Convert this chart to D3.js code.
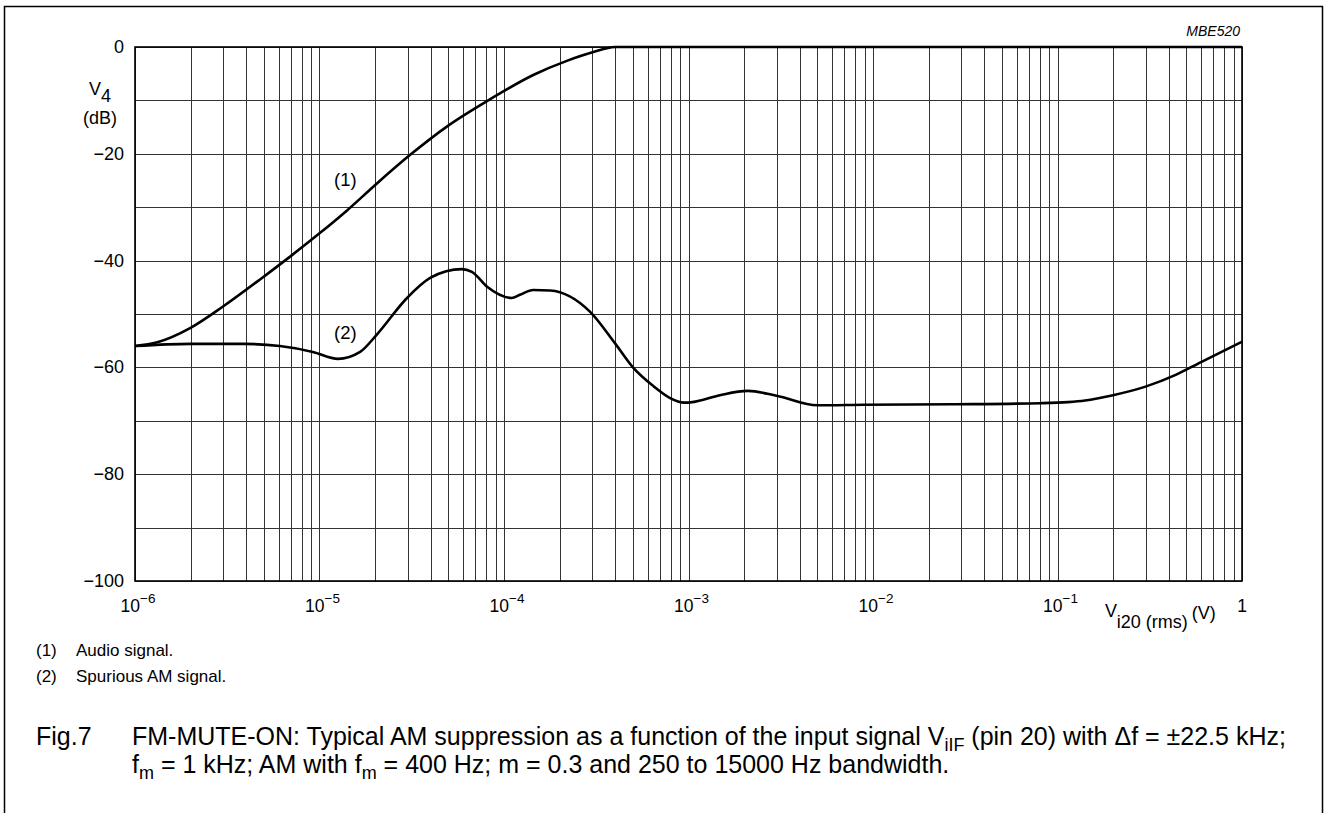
<!DOCTYPE html>
<html>
<head>
<meta charset="utf-8">
<script src="https://cdn.jsdelivr.net/npm/d3@7"></script>
<style>
  body { margin: 0; background: #fff; }
  text { font-family: "Liberation Sans", Arial, Helvetica, sans-serif; fill: #000; }
</style>
</head>
<body>
<div id="chart"></div>
<script>
// curve (1) audio signal: input voltage (V) and V4 (dB)
var audioVolts = [1e-6, 1.32e-6, 2.0e-6, 3.0e-6, 4.9e-6, 6.9e-6, 1e-5, 1.41e-5, 2.04e-5, 3.1e-5,
                  4.9e-5, 8.3e-5, 1.45e-4, 2.19e-4, 3.02e-4, 4.0e-4, 1e-3, 1e-2, 1e-1, 1];
var audioDb    = [-56, -55.3, -52.6, -48.6, -43.2, -39.3, -34.9, -30.6, -25.6, -20.2,
                  -14.9, -9.9, -5.2, -2.6, -1.0, 0, 0, 0, 0, 0];

// curve (2) spurious AM signal
var spurVolts = [1e-6, 2.0e-6, 3.85e-6, 6.1e-6, 9.2e-6, 1.26e-5, 1.66e-5, 2.04e-5, 2.98e-5, 4.0e-5,
                 5.9e-5, 6.7e-5, 8.1e-5, 1.1e-4, 1.22e-4, 1.44e-4, 1.78e-4, 2.93e-4, 4.0e-4, 5.0e-4,
                 6.5e-4, 7.9e-4, 9.5e-4, 1.05e-3, 1.48e-3, 2.1e-3, 3.0e-3, 5.0e-3, 8.9e-3, 2.7e-2,
                 8.1e-2, 1.14e-1, 1.41e-1, 2.0e-1, 3.0e-1, 4.37e-1, 6.0e-1, 1];
var spurDb    = [-56, -55.6, -55.6, -56.0, -57.1, -58.4, -57.1, -53.9, -47.0, -43.2,
                 -41.6, -42.1, -44.9, -47.0, -46.4, -45.5, -45.6, -49.6, -55.5, -60,
                 -63.6, -65.7, -66.6, -66.5, -65.2, -64.4, -65.3, -67.1, -67.0, -66.9,
                 -66.7, -66.5, -66.2, -65.2, -63.6, -61.4, -59.0, -55.2];

var yTicks = [0, -20, -40, -60, -80, -100];
var yGrid = [0, -10, -20, -30, -40, -50, -60, -70, -80, -90, -100];
var xDecades = [-6, -5, -4, -3, -2, -1];

var width = 1326, height = 813;
var plotLeft = 135, plotRight = 1242, plotTop = 47, plotBottom = 581;

var svg = d3.select("#chart").append("svg")
    .attr("width", width)
    .attr("height", height);

var x = d3.scaleLog().domain([1e-6, 1]).range([plotLeft, plotRight]);
var y = d3.scaleLinear().domain([-100, 0]).range([plotBottom, plotTop]);

// outer frame (open at the bottom, runs off the page)
svg.append("path")
    .attr("d", "M4.5," + (height + 5) + "V6.5H1322.5V" + (height + 5))
    .attr("fill", "none")
    .attr("stroke", "#000")
    .attr("stroke-width", 1.5);

// vertical grid: 1..9 in every decade
var xGrid = [];
xDecades.forEach(function (d) {
    for (var k = 1; k <= 9; k++) xGrid.push(k * Math.pow(10, d));
});
xGrid.push(1);

var grid = svg.append("g").attr("shape-rendering", "crispEdges");
grid.selectAll("line.v")
    .data(xGrid)
    .enter()
    .append("line")
    .attr("class", "v")
    .attr("x1", function (d) { return Math.round(x(d)) + 0.5; })
    .attr("x2", function (d) { return Math.round(x(d)) + 0.5; })
    .attr("y1", plotTop)
    .attr("y2", plotBottom)
    .attr("stroke", "#333")
    .attr("stroke-width", 1);

grid.selectAll("line.h")
    .data(yGrid)
    .enter()
    .append("line")
    .attr("class", "h")
    .attr("x1", plotLeft)
    .attr("x2", plotRight)
    .attr("y1", function (d) { return Math.round(y(d)) + 0.5; })
    .attr("y2", function (d) { return Math.round(y(d)) + 0.5; })
    .attr("stroke", "#333")
    .attr("stroke-width", 1);

svg.append("rect")
    .attr("x", plotLeft)
    .attr("y", plotTop)
    .attr("width", plotRight - plotLeft)
    .attr("height", plotBottom - plotTop)
    .attr("fill", "none")
    .attr("stroke", "#000")
    .attr("stroke-width", 1.6);

// curves
var line = d3.line()
    .x(function (d) { return x(d[0]); })
    .y(function (d) { return y(d[1]); })
    .curve(d3.curveMonotoneX);

svg.append("path")
    .datum(d3.zip(audioVolts, audioDb))
    .attr("d", line)
    .attr("fill", "none")
    .attr("stroke", "#000")
    .attr("stroke-width", 2.6);

svg.append("path")
    .datum(d3.zip(spurVolts, spurDb))
    .attr("d", line)
    .attr("fill", "none")
    .attr("stroke", "#000")
    .attr("stroke-width", 2.6);

// y tick labels
svg.selectAll("text.ytick")
    .data(yTicks)
    .enter()
    .append("text")
    .attr("class", "ytick")
    .attr("x", 124)
    .attr("y", function (d) { return y(d) + 6; })
    .attr("text-anchor", "end")
    .style("font-size", "18px")
    .text(function (d) { return d < 0 ? "\u2212" + (-d) : d; });

// x tick labels 10^n
var xt = svg.selectAll("text.xtick")
    .data(xDecades)
    .enter()
    .append("text")
    .attr("class", "xtick")
    .attr("x", function (d) { return x(Math.pow(10, d)) + 3; })
    .attr("y", 612)
    .attr("text-anchor", "middle")
    .style("font-size", "17.5px");
xt.append("tspan").text("10");
xt.append("tspan")
    .attr("dy", -9)
    .style("font-size", "13.5px")
    .text(function (d) { return "\u2212" + (-d); });

svg.append("text")
    .attr("x", x(1))
    .attr("y", 612)
    .attr("text-anchor", "middle")
    .style("font-size", "17.5px")
    .text("1");

// axis titles
var yt = svg.append("text").attr("x", 89).attr("y", 95).style("font-size", "18px");
yt.append("tspan").text("V");
yt.append("tspan").attr("dy", 7).text("4");
svg.append("text")
    .attr("x", 100)
    .attr("y", 124)
    .attr("text-anchor", "middle")
    .style("font-size", "18px")
    .text("(dB)");

var xl = svg.append("text").attr("x", 1105).attr("y", 617).style("font-size", "18px");
xl.append("tspan").text("V");
xl.append("tspan").attr("dy", 11).text("i20 (rms)");
xl.append("tspan").attr("dy", -9).attr("dx", 4).text("(V)");

// curve labels
svg.append("text").attr("x", 334).attr("y", 186).style("font-size", "18.5px").text("(1)");
svg.append("text").attr("x", 334).attr("y", 339).style("font-size", "18.5px").text("(2)");

svg.append("text")
    .attr("x", 1240)
    .attr("y", 36)
    .attr("text-anchor", "end")
    .style("font-size", "14px")
    .style("font-style", "italic")
    .text("MBE520");

// notes
var notes = ["(1)", "(2)"];
var noteText = ["Audio signal.", "Spurious AM signal."];
notes.forEach(function (n, i) {
    svg.append("text").attr("x", 36).attr("y", 656 + i * 26).style("font-size", "17px").text(n);
    svg.append("text").attr("x", 76).attr("y", 656 + i * 26).style("font-size", "17px").text(noteText[i]);
});

// caption
svg.append("text").attr("x", 36).attr("y", 745).style("font-size", "25px").text("Fig.7");
var c1 = svg.append("text").attr("x", 132).attr("y", 745).style("font-size", "25px");
c1.append("tspan").text("FM-MUTE-ON: Typical AM suppression as a function of the input signal V");
c1.append("tspan").attr("dy", 6).style("font-size", "18px").text("iIF");
c1.append("tspan").attr("dy", -6).text(" (pin 20) with \u0394f = \u00b122.5 kHz;");

var c2 = svg.append("text").attr("x", 132).attr("y", 773).style("font-size", "25px");
c2.append("tspan").text("f");
c2.append("tspan").attr("dy", 6).style("font-size", "18px").text("m");
c2.append("tspan").attr("dy", -6).text(" = 1 kHz; AM with f");
c2.append("tspan").attr("dy", 6).style("font-size", "18px").text("m");
c2.append("tspan").attr("dy", -6).text(" = 400 Hz; m = 0.3 and 250 to 15000 Hz bandwidth.");
</script>
</body>
</html>
